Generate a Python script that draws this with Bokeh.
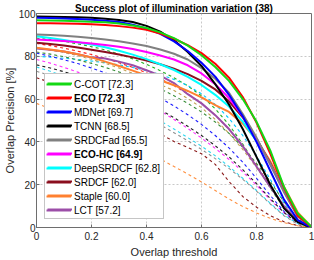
from bokeh.plotting import figure
from bokeh.models import Legend, LegendItem
from bokeh.embed import file_html
from bokeh.resources import INLINE

# ---------------- data ----------------
thresholds = [0.0, 0.05, 0.1, 0.15, 0.2, 0.25, 0.3, 0.35, 0.4, 0.45, 0.5,
              0.55, 0.6, 0.65, 0.7, 0.75, 0.8, 0.85, 0.9, 0.95, 1.0]

tracker_names = ["C-COT", "ECO", "MDNet", "TCNN", "SRDCFad", "ECO-HC",
                 "DeepSRDCF", "SRDCF", "Staple", "LCT"]
tracker_auc = ["72.3", "72.3", "69.7", "68.5", "65.5", "64.9", "62.8", "62.0", "60.0", "57.2"]
tracker_bold = [False, True, False, False, False, True, False, False, False, False]
tracker_colors = ["#14d814", "#ff0000", "#0000ff", "#000000", "#808080", "#ff00ff",
                  "#00ffff", "#8a0f1e", "#ff8030", "#9c4ea8"]

ccot = [96.8, 96.7, 96.6, 96.4, 96.2, 95.9, 95.3, 94.4, 93.2, 91.2, 88.5, 85.0, 80.5, 75.0, 68.5, 60.0, 49.5, 36.0, 19.0, 6.5, 0.3]
eco = [95.5, 95.4, 95.3, 95.2, 95.0, 94.6, 94.1, 93.4, 92.4, 90.6, 88.2, 85.2, 81.5, 76.5, 70.0, 61.0, 49.0, 34.5, 18.5, 5.5, 0.2]
mdnet = [98.0, 97.9, 97.7, 97.4, 97.1, 96.6, 96.0, 94.8, 93.0, 90.5, 87.0, 82.5, 77.0, 70.5, 62.0, 52.0, 40.0, 26.5, 13.0, 3.5, 0.0]
tcnn = [98.6, 98.5, 98.4, 98.2, 98.0, 97.6, 97.0, 96.0, 94.2, 91.5, 87.5, 82.0, 75.5, 67.0, 57.5, 46.0, 33.0, 20.0, 9.0, 2.5, 0.0]
srdcfad = [90.2, 90.0, 89.6, 89.1, 88.5, 87.8, 87.0, 86.0, 84.8, 83.2, 81.2, 78.5, 74.5, 69.5, 63.0, 53.0, 42.0, 29.5, 16.5, 5.0, 0.3]
ecohc = [87.8, 87.5, 87.1, 86.6, 86.0, 85.3, 84.5, 83.4, 82.0, 80.4, 78.5, 75.8, 72.0, 67.0, 60.5, 52.0, 41.5, 29.5, 17.0, 6.0, 0.2]
deepsrdcf = [89.4, 88.5, 87.6, 86.6, 85.5, 84.2, 82.6, 80.8, 78.7, 76.3, 73.6, 70.4, 66.6, 62.0, 56.5, 49.5, 40.5, 29.5, 17.0, 6.0, 0.2]
srdcf = [86.3, 85.7, 85.0, 84.1, 83.1, 82.0, 80.8, 79.5, 78.0, 76.3, 74.2, 71.7, 68.5, 64.5, 59.0, 51.5, 41.5, 30.0, 17.0, 5.5, 0.2]
staple = [84.0, 83.2, 82.2, 81.0, 79.5, 77.5, 75.5, 73.3, 71.0, 68.8, 66.5, 63.8, 60.8, 57.2, 54.0, 48.5, 41.0, 31.0, 19.0, 7.0, 0.3]
lct = [83.7, 83.0, 82.2, 81.0, 79.5, 79.0, 77.5, 75.8, 73.5, 71.0, 67.5, 62.3, 58.0, 52.5, 46.0, 38.0, 28.5, 19.0, 10.0, 3.0, 0.0]
tracker_values = [ccot, eco, mdnet, tcnn, srdcfad, ecohc, deepsrdcf, srdcf, staple, lct]

# other trackers (dashed, not in legend)
other_colors = ["#22b022", "#00c8ff", "#ff2020", "#c0a050", "#3a8f3a", "#2020ff",
                "#ff30ff", "#202020", "#30d8f0", "#909090", "#8b1a1a", "#ff9040"]
other_a = [88.5, 87.8, 87.0, 85.8, 84.5, 83.0, 81.0, 78.8, 76.2, 73.3, 70.0, 66.2, 61.5, 55.5, 48.0, 39.0, 29.0, 18.5, 9.0, 2.5, 0.0]
other_b = [80.0, 79.6, 79.1, 78.5, 77.8, 77.0, 76.0, 74.8, 73.3, 71.5, 69.2, 66.3, 62.5, 57.5, 51.0, 43.0, 33.5, 22.5, 11.5, 3.5, 0.0]
other_c = [86.0, 85.0, 83.8, 82.4, 80.8, 79.0, 77.0, 74.8, 72.3, 69.5, 66.3, 62.5, 58.0, 52.5, 46.0, 38.0, 29.0, 19.5, 10.0, 3.0, 0.0]
other_d = [84.0, 83.0, 81.8, 80.3, 78.6, 76.7, 74.5, 72.0, 69.3, 66.8, 64.0, 60.3, 56.0, 50.5, 44.0, 36.5, 28.0, 19.0, 10.5, 3.5, 0.0]
other_e = [82.0, 81.0, 79.8, 78.3, 76.7, 74.8, 72.7, 70.3, 67.7, 64.8, 61.6, 58.0, 54.0, 49.3, 44.0, 37.5, 30.0, 21.5, 12.0, 4.0, 0.0]
other_f = [81.5, 80.0, 78.4, 76.6, 74.5, 72.2, 69.6, 66.8, 63.8, 60.5, 56.8, 52.7, 48.2, 43.0, 37.2, 30.5, 23.0, 15.0, 7.5, 2.2, 0.0]
other_g = [78.5, 76.8, 74.8, 72.6, 70.2, 67.5, 64.6, 61.5, 58.2, 54.5, 50.5, 46.3, 41.8, 37.0, 31.8, 26.0, 19.8, 13.0, 6.8, 2.0, 0.0]
other_h = [76.0, 74.5, 72.8, 70.9, 68.8, 66.5, 64.0, 61.3, 58.3, 55.0, 51.3, 47.3, 43.0, 38.2, 33.0, 27.0, 20.5, 13.5, 7.0, 2.0, 0.0]
other_i = [75.0, 73.0, 70.8, 68.4, 65.8, 63.0, 60.0, 56.8, 53.4, 49.8, 46.0, 42.0, 38.0, 33.5, 28.5, 23.0, 17.3, 11.3, 5.8, 1.8, 0.0]
other_j = [73.0, 71.0, 68.8, 66.4, 63.8, 61.0, 58.0, 54.8, 51.5, 48.0, 44.3, 40.5, 36.5, 32.2, 27.6, 22.5, 17.0, 11.0, 5.5, 1.5, 0.0]
other_k = [70.0, 67.8, 65.3, 62.6, 59.8, 56.9, 53.8, 50.6, 47.3, 43.8, 40.2, 37.4, 34.5, 29.5, 21.5, 14.5, 9.5, 5.5, 2.7, 0.9, 0.0]
other_l = [58.0, 55.5, 53.0, 50.3, 47.5, 44.6, 41.6, 38.5, 35.3, 32.0, 28.5, 25.0, 21.3, 17.3, 13.3, 9.8, 6.8, 4.3, 2.3, 0.8, 0.0]
other_values = [other_a, other_b, other_c, other_d, other_e, other_f,
                other_g, other_h, other_i, other_j, other_k, other_l]

x_ticks = [0, 0.2, 0.4, 0.6, 0.8, 1]
x_tick_labels = ["0", "0.2", "0.4", "0.6", "0.8", "1"]
y_ticks = [0, 20, 40, 60, 80, 100]
y_tick_labels = ["0", "20", "40", "60", "80", "100"]

title_text = "Success plot of illumination variation (38)"
x_label = "Overlap threshold"
y_label = "Overlap Precision [%]"

# ---------------- figure ----------------
FONT = "Liberation Sans"
TXT = "#262626"
AX = "#6e6e6e"

p = figure(width=314, height=260, x_range=(0, 1), y_range=(0, 100),
           output_backend="svg", toolbar_location=None, title=title_text,
           min_border_left=0, min_border_right=3, min_border_top=0, min_border_bottom=31)
p.title.text_font = FONT
p.title.text_font_size = "10px"
p.title.text_font_style = "bold"
p.title.text_color = "#000000"
p.title.align = "center"
p.title.standoff = 0
p.title.offset = 0

for ax in (p.xaxis[0], p.yaxis[0]):
    ax.axis_line_color = AX
    ax.major_tick_line_color = AX
    ax.major_tick_in = 3
    ax.major_tick_out = 0
    ax.minor_tick_line_color = None
    ax.major_label_text_font = FONT
    ax.major_label_text_font_size = "10px"
    ax.major_label_text_color = TXT
    ax.axis_label_text_font = FONT
    ax.axis_label_text_font_size = "11px"
    ax.axis_label_text_font_style = "normal"
    ax.axis_label_text_color = TXT

p.yaxis.major_label_standoff = 1
p.yaxis.axis_label_standoff = 0
p.xaxis.major_label_standoff = 4
p.xaxis.axis_label_standoff = 3
p.xaxis.ticker = x_ticks
p.xaxis.major_label_overrides = {t: s for t, s in zip(x_ticks, x_tick_labels)}
p.yaxis.ticker = y_ticks
p.yaxis.major_label_overrides = {t: s for t, s in zip(y_ticks, y_tick_labels)}
p.xaxis.axis_label = x_label
p.yaxis.axis_label = y_label

p.outline_line_color = AX
p.outline_line_width = 1
p.grid.grid_line_color = "#c8c8c8"
p.grid.grid_line_dash = "2 2"
p.grid.grid_line_width = 1
p.background_fill_color = "white"
p.border_fill_color = "white"

# dashed curves (other trackers)
for vals, col in zip(other_values, other_colors):
    p.line(thresholds, vals, line_color=col, line_width=1.1, line_dash="3 3")

# solid curves (top 10), drawn from last to first so C-COT ends on top
renderers = {}
for name, vals, col in reversed(list(zip(tracker_names, tracker_values, tracker_colors))):
    renderers[name] = p.line(thresholds, vals, line_color=col, line_width=2, line_join="round")

# ---------------- legend ----------------
LX, LY, PAD, H = 8, 8, 2, 14
common = dict(spacing=0, margin=0, glyph_width=25, glyph_height=H, label_height=H,
              label_standoff=3, label_text_font=FONT, label_text_font_size="10px",
              label_text_color="#000000", orientation="vertical")

labels = [f"{n} [{a}]" for n, a in zip(tracker_names, tracker_auc)]
bg = Legend(items=[LegendItem(label=l, renderers=[renderers[n]]) for l, n in zip(labels, tracker_names)],
            location=(LX, LY), padding=PAD, label_text_alpha=0,
            border_line_color="#8c8c8c", border_line_width=1,
            background_fill_color="white", background_fill_alpha=1, **common)
p.add_layout(bg)

# front legends, grouped by font style, stacked bottom-up
groups = []
cur = []
for l, n, b in zip(labels, tracker_names, tracker_bold):
    if cur and cur[-1][2] != b:
        groups.append(cur)
        cur = []
    cur.append((l, n, b))
groups.append(cur)

count_below = len(labels)
for g in groups:
    count_below -= len(g)
    leg = Legend(items=[LegendItem(label=l, renderers=[renderers[n]]) for l, n, b in g],
                 location=(LX + PAD, LY + PAD + count_below * H), padding=0,
                 border_line_color=None, background_fill_alpha=0,
                 label_text_font_style="bold" if g[0][2] else "normal", **common)
    p.add_layout(leg)

open("out.html", "w").write(file_html(p, INLINE))
